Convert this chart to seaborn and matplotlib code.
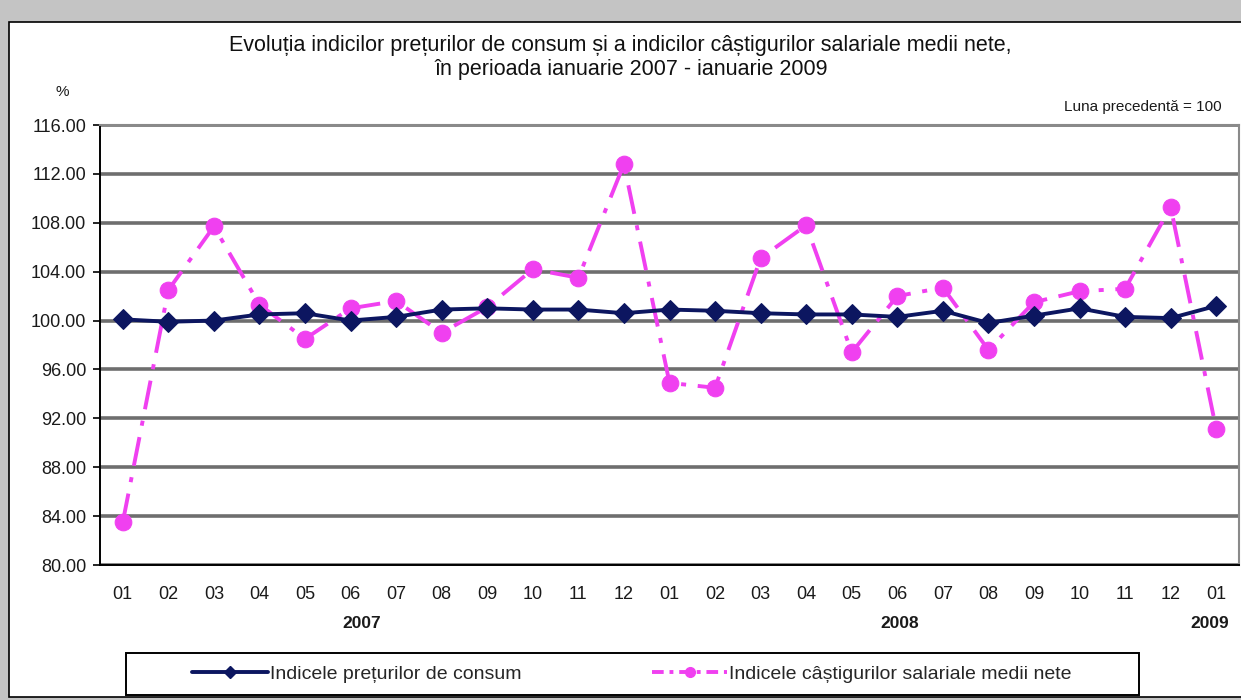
import numpy as np
import pandas as pd
import matplotlib
matplotlib.use("Agg")
import matplotlib.pyplot as plt
from matplotlib.lines import Line2D
from matplotlib.patches import Rectangle
import seaborn as sns

# Data (luna precedentă = 100)
months = ["01", "02", "03", "04", "05", "06", "07", "08", "09", "10", "11", "12",
          "01", "02", "03", "04", "05", "06", "07", "08", "09", "10", "11", "12",
          "01"]
years = ["2007", "2008", "2009"]
year_pos = [5.25, 17.05, 23.85]

cpi = [100.1, 99.9, 100.0, 100.5, 100.6, 100.0, 100.3, 100.9, 101.0, 100.9, 100.9, 100.6,
       100.9, 100.8, 100.6, 100.5, 100.5, 100.3, 100.8, 99.8, 100.4, 101.0, 100.3, 100.2,
       101.2]
salary = [83.5, 102.5, 107.7, 101.3, 98.5, 101.0, 101.6, 99.0, 101.1, 104.2, 103.5, 112.8,
          94.9, 94.5, 105.1, 107.8, 97.4, 102.0, 102.7, 97.6, 101.5, 102.4, 102.6, 109.3,
          91.1]
yticks = [80, 84, 88, 92, 96, 100, 104, 108, 112, 116]

label_cpi = "Indicele prețurilor de consum"
label_sal = "Indicele câștigurilor salariale medii nete"
navy = "#0c1660"
pink = "#f040f0"
W, H = 1241, 700

sns.set_style("white")
plt.rcParams["font.family"] = ["Liberation Sans", "DejaVu Sans"]

df = pd.DataFrame({"pos": np.arange(len(months)), "cpi": cpi, "salary": salary})

fig = plt.figure(figsize=(12.41, 7.0), dpi=100)
fig.patch.set_facecolor("#c4c4c4")
# white chart frame behind everything
fig.patches.append(Rectangle((9 / W, 3 / H), 1 - 9 / W + 0.01, 675 / H,
                             transform=fig.transFigure, facecolor="white",
                             edgecolor="black", linewidth=1.2, zorder=-5))

ax = fig.add_axes([100 / W, 135 / H, 1139 / W, 440 / H])
ax.set_facecolor("white")

sns.lineplot(data=df, x="pos", y="salary", ax=ax, color=pink, linewidth=2.8,
             linestyle=(0, (7.5, 3, 1.3, 3)), marker="o", markersize=12,
             markeredgecolor=pink, zorder=3)
sns.lineplot(data=df, x="pos", y="cpi", ax=ax, color=navy, linewidth=2.8,
             marker="D", markersize=10, markeredgecolor=navy, zorder=4)

ax.set_xlim(-0.5, len(months) - 0.5)
ax.set_ylim(80, 116)
ax.set_yticks(yticks)
ax.set_yticklabels([f"{v:.2f}" for v in yticks], fontsize=13, color="#1a1a1a")
ax.yaxis.grid(True, color="#6e6e6e", linewidth=2.6)
ax.xaxis.grid(False)
ax.set_axisbelow(True)

ax.set_xticks(np.arange(len(months)))
ax.set_xticklabels(months, fontsize=13, color="#1a1a1a")
ax.set_xticks(np.arange(len(months) + 1) - 0.5, minor=True)
ax.tick_params(axis="x", which="major", length=0, pad=15)
ax.tick_params(axis="x", which="minor", length=5, width=1.2, color="black", direction="out")
ax.tick_params(axis="y", length=5, width=1.2, color="black", direction="out", left=True, pad=5)
ax.set_xlabel("")
ax.set_ylabel("")

for side in ["left", "bottom"]:
    ax.spines[side].set_color("black")
    ax.spines[side].set_linewidth(1.4)
for side in ["top", "right"]:
    ax.spines[side].set_color("#8a8a8a")
    ax.spines[side].set_linewidth(1.5)

for pos, yr in zip(year_pos, years):
    ax.text(pos, -0.132, yr, transform=ax.get_xaxis_transform(), ha="center",
            va="center", fontsize=12.5, fontweight="bold", color="#1a1a1a")

fig.text(620 / W, 1 - 45 / H,
         "Evoluția indicilor prețurilor de consum și a indicilor câștigurilor salariale medii nete,",
         ha="center", va="center", fontsize=15.5, color="#111111")
fig.text(631 / W, 1 - 70 / H, "în perioada ianuarie 2007 - ianuarie 2009",
         ha="center", va="center", fontsize=15.5, color="#111111")
fig.text(62 / W, 1 - 92 / H, "%", ha="center", va="center", fontsize=11, color="#1a1a1a")
fig.text(1222 / W, 1 - 107 / H, "Luna precedentă = 100", ha="right", va="center",
         fontsize=11, color="#1a1a1a")

# legend box drawn separately so its padding can match the reference
fig.patches.append(Rectangle((126 / W, 1 - 695 / H), 1013 / W, 42 / H,
                             transform=fig.transFigure, facecolor="white",
                             edgecolor="black", linewidth=1.4, zorder=1))
handles = [
    Line2D([], [], color=navy, linewidth=2.8, marker="D", markersize=6),
    Line2D([], [], color=pink, linewidth=2.8, linestyle=(0, (3, 1.5, 1, 1.5)),
           marker="o", markersize=7),
]
leg = fig.legend(handles, [label_cpi, label_sal], loc="center",
                 bbox_to_anchor=(632 / W, 1 - 674 / H), ncol=2, fontsize=14,
                 frameon=False, handlelength=3.9, columnspacing=6.7,
                 handletextpad=0.1)
leg.set_zorder(2)

fig.savefig("out.png", dpi=100, facecolor=fig.get_facecolor())
